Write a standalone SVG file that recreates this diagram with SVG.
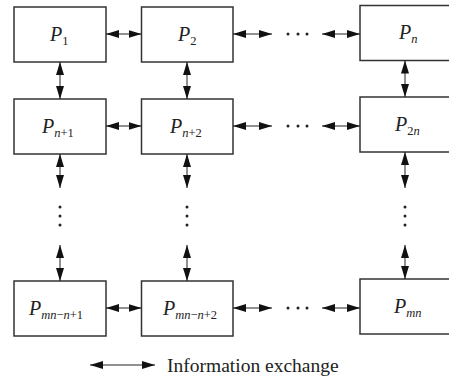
<svg xmlns="http://www.w3.org/2000/svg" width="449" height="381" viewBox="0 0 449 381">
<style>
.box{fill:#fff;stroke:#333;stroke-width:1.5}
text{font-family:'Liberation Serif','Times New Roman','DejaVu Serif',serif}
.lbl{font-size:20px;font-style:italic;fill:#222}
.sub{font-size:12.5px}
.up{font-style:normal}
.con{stroke:#222;stroke-width:1;fill:none;marker-start:url(#ah);marker-end:url(#ah)}
.dot{fill:#222}
.leg{font-size:19.5px;fill:#222}
</style>
<defs>
<marker id="ah" viewBox="0 0 13 8" refX="13" refY="4" markerWidth="13" markerHeight="8" markerUnits="userSpaceOnUse" orient="auto-start-reverse">
<path d="M0,0 L13,4 L0,8 Z" fill="#111"/>
</marker>
</defs>
<rect width="449" height="381" fill="#fff"/>
<g id="p1"><rect class="box" x="14" y="7" width="92" height="55"/><text class="lbl" x="50" y="41" font-family="Liberation Serif, serif">P<tspan class="sub up" dy="4">1</tspan></text></g>
<g id="p2"><rect class="box" x="141.5" y="7" width="91.5" height="55"/><text class="lbl" x="178" y="41" font-family="Liberation Serif, serif">P<tspan class="sub up" dy="4">2</tspan></text></g>
<g id="pn"><rect class="box" x="360" y="5.5" width="95" height="55"/><text class="lbl" x="399" y="39" font-family="Liberation Serif, serif">P<tspan class="sub" dy="4">n</tspan></text></g>
<g id="pn1"><rect class="box" x="14" y="99" width="92" height="55"/><text class="lbl" x="42" y="133" font-family="Liberation Serif, serif">P<tspan class="sub" dy="4">n</tspan><tspan class="sub up">+1</tspan></text></g>
<g id="pn2"><rect class="box" x="141.5" y="99" width="91.5" height="55"/><text class="lbl" x="170" y="133" font-family="Liberation Serif, serif">P<tspan class="sub" dy="4">n</tspan><tspan class="sub up">+2</tspan></text></g>
<g id="p2n"><rect class="box" x="360" y="97" width="95" height="55"/><text class="lbl" x="395" y="131" font-family="Liberation Serif, serif">P<tspan class="sub up" dy="4">2</tspan><tspan class="sub">n</tspan></text></g>
<g id="pmn1"><rect class="box" x="14" y="281" width="92" height="55"/><text class="lbl" x="29" y="315" font-family="Liberation Serif, serif">P<tspan class="sub" dy="4">mn</tspan><tspan class="sub up">−</tspan><tspan class="sub">n</tspan><tspan class="sub up">+1</tspan></text></g>
<g id="pmn2"><rect class="box" x="141.5" y="281" width="91.5" height="55"/><text class="lbl" x="163" y="315" font-family="Liberation Serif, serif">P<tspan class="sub" dy="4">mn</tspan><tspan class="sub up">−</tspan><tspan class="sub">n</tspan><tspan class="sub up">+2</tspan></text></g>
<g id="pmn"><rect class="box" x="360" y="279" width="95" height="55"/><text class="lbl" x="394" y="313" font-family="Liberation Serif, serif">P<tspan class="sub" dy="4">mn</tspan></text></g>
<g id="connectors">
<line class="con" x1="106" y1="34" x2="141.5" y2="34"/>
<line class="con" x1="233" y1="34" x2="272" y2="34"/>
<line class="con" x1="322" y1="34" x2="360" y2="34"/>
<line class="con" x1="106" y1="126" x2="141.5" y2="126"/>
<line class="con" x1="233" y1="126" x2="272" y2="126"/>
<line class="con" x1="322" y1="126" x2="360" y2="126"/>
<line class="con" x1="106" y1="308" x2="141.5" y2="308"/>
<line class="con" x1="233" y1="308" x2="272" y2="308"/>
<line class="con" x1="322" y1="308" x2="360" y2="308"/>
<line class="con" x1="60" y1="62" x2="60" y2="99"/>
<line class="con" x1="187" y1="62" x2="187" y2="99"/>
<line class="con" x1="405" y1="60.5" x2="405" y2="97"/>
<line class="con" x1="60" y1="154" x2="60" y2="188"/>
<line class="con" x1="187" y1="154" x2="187" y2="188"/>
<line class="con" x1="405" y1="152" x2="405" y2="188"/>
<line class="con" x1="60" y1="245" x2="60" y2="281"/>
<line class="con" x1="187" y1="245" x2="187" y2="281"/>
<line class="con" x1="405" y1="245" x2="405" y2="279"/>
</g>
<g id="dots">
<circle class="dot" cx="288" cy="34" r="1.5"/><circle class="dot" cx="298" cy="34" r="1.5"/><circle class="dot" cx="307" cy="34" r="1.5"/>
<circle class="dot" cx="288" cy="126" r="1.5"/><circle class="dot" cx="298" cy="126" r="1.5"/><circle class="dot" cx="307" cy="126" r="1.5"/>
<circle class="dot" cx="288" cy="308" r="1.5"/><circle class="dot" cx="298" cy="308" r="1.5"/><circle class="dot" cx="307" cy="308" r="1.5"/>
<circle class="dot" cx="60" cy="207" r="1.5"/><circle class="dot" cx="60" cy="216" r="1.5"/><circle class="dot" cx="60" cy="225" r="1.5"/>
<circle class="dot" cx="187" cy="207" r="1.5"/><circle class="dot" cx="187" cy="216" r="1.5"/><circle class="dot" cx="187" cy="225" r="1.5"/>
<circle class="dot" cx="405" cy="207" r="1.5"/><circle class="dot" cx="405" cy="216" r="1.5"/><circle class="dot" cx="405" cy="225" r="1.5"/>
</g>
<g id="legend">
<line class="con" x1="90" y1="365" x2="155" y2="365"/>
<text class="leg" x="167" y="372" font-family="Liberation Serif, serif">Information exchange</text>
</g>
</svg>
